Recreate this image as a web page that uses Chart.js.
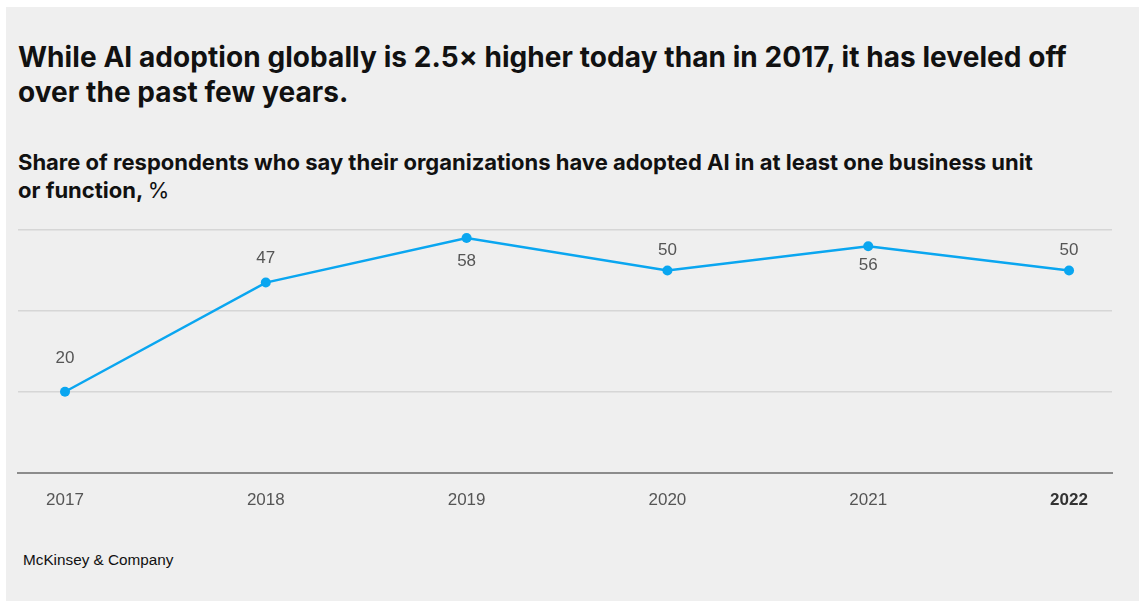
<!DOCTYPE html>
<html>
<head>
<meta charset="utf-8">
<script src="https://cdn.jsdelivr.net/npm/chart.js@4/dist/chart.umd.min.js"></script>
<style>
  html, body { margin: 0; padding: 0; background: #fff; }
  body { width: 1139px; height: 601px; position: relative; overflow: hidden; }
  #panel { position: absolute; left: 6px; top: 7px; width: 1133px; height: 594px; background: #efefef; }
  .title { position: absolute; left: 18px; top: 40px; font-family: Inter, sans-serif; font-weight: 700;
           font-size: 28px; line-height: 35px; color: #111; letter-spacing: 0.07px; }
  .sub { position: absolute; left: 18px; top: 148px; font-family: Inter, sans-serif; font-weight: 700;
         font-size: 22px; line-height: 28px; color: #111; letter-spacing: 0px; }
  .sub span { font-weight: 400; }
  .foot { position: absolute; left: 23px; top: 551px; font-family: "Liberation Sans", Arial, sans-serif;
          font-size: 15.3px; color: #111; }
  #wrap { position: absolute; left: 0; top: 200px; width: 1139px; height: 338px; }
</style>
</head>
<body>
<div id="panel"></div>
<div class="title">While AI adoption globally is 2.5× higher today than in 2017, it has leveled off<br>over the past few years.</div>
<div class="sub">Share of respondents who say their organizations have adopted AI in at least one business unit<br>or function, <span>%</span></div>
<div class="foot">McKinsey &amp; Company</div>
<div id="wrap"><canvas id="chart"></canvas></div>
<script>
// values
const years = [2017, 2018, 2019, 2020, 2021, 2022];
const adoption = [20, 47, 58, 50, 56, 50];
const gridValues = [0, 20, 40, 60];

// vertical offset of each value label from its point (style, px)
const labelOffsets = [-33, -24, 23, -20, 19, -20];

const lineColor = '#0aa6f0';

const valueLabels = {
  id: 'valueLabels',
  afterDatasetsDraw(chart) {
    const c = chart.ctx;
    const meta = chart.getDatasetMeta(0);
    c.save();
    c.font = '17px "Liberation Sans", Arial, sans-serif';
    c.fillStyle = '#555';
    c.textAlign = 'center';
    c.textBaseline = 'middle';
    meta.data.forEach(function (pt, i) {
      c.fillText(String(adoption[i]), pt.x, pt.y + labelOffsets[i]);
    });
    c.restore();
  }
};

new Chart(document.getElementById('chart'), {
  type: 'line',
  data: {
    datasets: [{
      data: years.map(function (y, i) { return { x: y, y: adoption[i] }; }),
      borderColor: lineColor,
      backgroundColor: lineColor,
      borderWidth: 2.5,
      pointRadius: 5,
      pointBorderWidth: 0,
      pointBackgroundColor: lineColor,
      tension: 0
    }]
  },
  options: {
    responsive: true,
    maintainAspectRatio: false,
    animation: false,
    layout: { padding: { left: 18, right: 27, top: 30, bottom: 17 } },
    plugins: { legend: { display: false }, tooltip: { enabled: false } },
    scales: {
      x: {
        type: 'linear',
        min: 2016.766,
        max: 2022.214,
        afterBuildTicks: function (axis) { axis.ticks = years.map(function (y) { return { value: y }; }); },
        grid: { display: false },
        border: { display: true, color: '#8c8c8c', width: 2 },
        ticks: {
          padding: 10,
          autoSkip: false,
          maxRotation: 0,
          callback: function (v) { return String(v); },
          color: function (ctx) { return ctx.tick && ctx.tick.value === 2022 ? '#333' : '#555'; },
          font: function (ctx) {
            const bold = ctx.tick && ctx.tick.value === 2022;
            return { family: '"Liberation Sans", Arial, sans-serif', size: 17, weight: bold ? 'bold' : 'normal' };
          }
        }
      },
      y: {
        min: 0,
        max: 60,
        afterBuildTicks: function (axis) { axis.ticks = gridValues.map(function (v) { return { value: v }; }); },
        ticks: { display: false },
        border: { display: false },
        grid: { color: '#d6d6d6', lineWidth: 1.5, drawTicks: false }
      }
    }
  },
  plugins: [valueLabels]
});
</script>
</body>
</html>
